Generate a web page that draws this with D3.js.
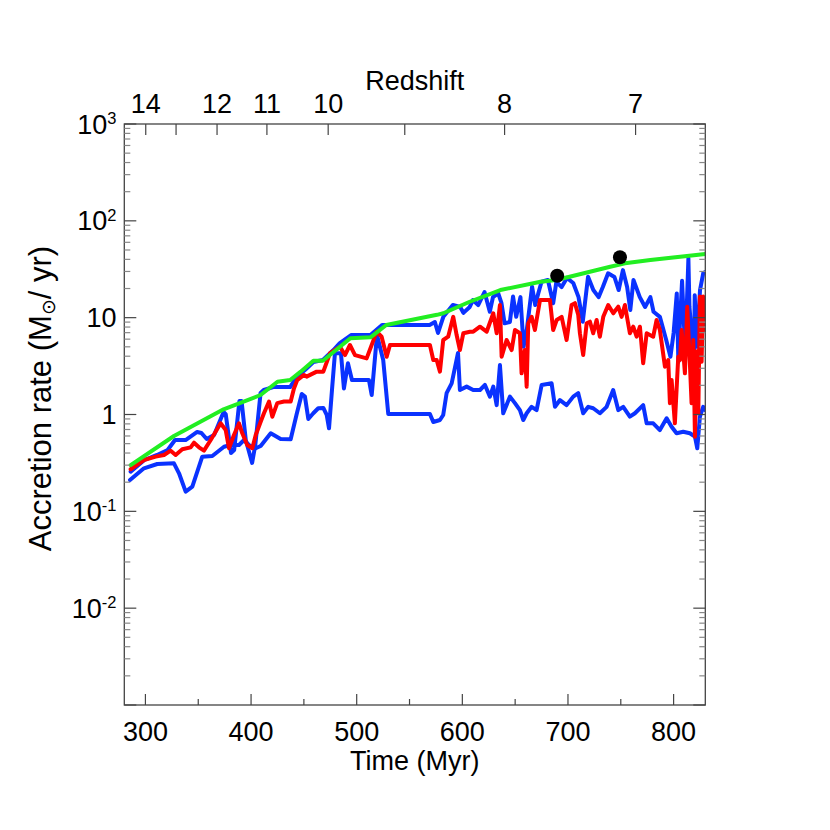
<!DOCTYPE html>
<html><head><meta charset="utf-8">
<script src="https://cdn.jsdelivr.net/npm/d3@7"></script>
<style>body{margin:0;background:#fff}</style>
</head><body>
<svg id="c" width="830" height="830"></svg>
<script>
// ---------- data ----------
const timeTicks = [300, 400, 500, 600, 700, 800];
const timeMinorTicks = [350, 450, 550, 650, 750];
const redshiftTimes = [300.3, 329, 367.8, 415, 473, 545.5, 640, 764];
const redshiftLabels = ["14", "", "12", "11", "10", "", "8", "7"];
const decadeExps = [-3, -2, -1, 0, 1, 2, 3];

const greenLine = [[286,0.30],[327,0.60],[374,1.13],[409,1.59],[425,2.18],[437,2.27],[447,2.77],[459,3.59],[468,3.59],[494,6.12],[513,6.27],[528,8.40],[576,10.7],[582,11.1],[607,14.6],[636,19.3],[674,23.5],[689,24.5],[740,33.6],[754,36.4],[778,39.4],[830,45.5]];

const blueUpper = [[286,0.257],[299,0.339],[311,0.382],[321,0.430],[328,0.545],[338,0.545],[349,0.660],[353,0.644],[358,0.558],[365,0.614],[374,1.06],[376,1.01],[381,0.400],[384,0.430],[389,1.38],[391,1.38],[395,0.545],[401,0.316],[404,0.484],[409,1.67],[412,1.79],[421,1.92],[437,1.92],[443,2.44],[451,2.88],[459,3.48],[468,3.65],[478,4.63],[484,5.47],[495,6.62],[513,6.62],[524,8.40],[569,8.40],[574,9.02],[577,6.95],[582,10.2],[591,13.5],[598,12.9],[601,11.2],[607,12.9],[610,15.2],[615,13.5],[621,18.4],[626,11.5],[629,16.3],[634,17.8],[637,14.2],[640,8.74],[645,9.02],[648,16.5],[651,10.2],[655,16.3],[658,5.01],[661,7.46],[666,20.9],[669,13.5],[672,18.0],[675,23.5],[681,24.5],[686,14.1],[689,23.4],[694,20.7],[699,25.7],[705,22.8],[710,16.3],[714,9.09],[719,26.5],[724,19.3],[729,16.3],[733,20.7],[738,28.7],[744,26.3],[748,19.3],[752,31.0],[756,20.7],[759,12.0],[762,24.5],[768,16.3],[773,12.9],[778,16.3],[781,11.5],[787,10.2],[793,5.88],[797,3.95],[800,6.95],[803,17.8],[804.5,3.5],[806,8.81],[808,24.0],[811,4.32],[814,41.0],[815,12.9],[817,6.95],[819,2.27],[820,17.0],[822,5.0],[825,19.3],[828,28.7],[830,29.6]];

const redLine = [[286,0.272],[298.6,0.339],[309.7,0.367],[317.6,0.382],[323.9,0.423],[328.6,0.382],[334.9,0.437],[342.8,0.458],[346,0.511],[350.7,0.458],[355.4,0.423],[361.8,0.545],[371.2,0.811],[376,0.691],[379.1,0.448],[383.8,0.614],[388.6,0.811],[391.7,0.640],[396.4,0.484],[401.2,0.448],[404.4,0.614],[409.1,0.843],[412.2,1.03],[417,1.36],[420.1,0.949],[424.8,1.31],[431.2,1.36],[437.5,1.36],[440.6,1.86],[443.7,2.27],[450.1,2.56],[452.6,2.46],[462.1,2.77],[468.4,2.77],[474.7,4.29],[484.2,5.01],[488.9,4.11],[493.6,5.22],[498.4,4.11],[509.4,3.80],[518.9,7.16],[523.6,6.36],[528.4,3.95],[531.5,5.22],[569.3,5.22],[572.5,3.65],[575.7,3.65],[578.8,2.77],[581.9,5.88],[586.6,6.36],[591.4,10.2],[594.6,6.62],[597.7,4.63],[600.9,6.90],[607.2,7.16],[610.3,7.16],[616.7,8.07],[623,7.16],[629.3,11.1],[632.5,6.90],[635.6,13.5],[637.2,3.95],[641.9,5.88],[646.7,4.63],[649.8,7.46],[654.5,6.90],[656.1,2.66],[659.2,4.63],[660.9,1.94],[662.4,8.74],[665.6,10.2],[668.7,7.46],[673.5,15.2],[682.9,15.2],[686,7.46],[689.3,9.46],[694,10.2],[698.7,5.88],[703.4,13.5],[706.6,14.1],[709.7,10.7],[711.3,6.90],[714.4,4.11],[717.7,8.74],[720.8,9.09],[723.9,6.90],[727.1,9.46],[730.2,6.36],[733.4,10.2],[738.1,13.5],[742.9,11.1],[747.6,13.0],[750.8,10.2],[753.9,13.5],[758.6,6.90],[761.8,8.07],[765,6.36],[768.1,8.07],[771.2,3.38],[774.5,6.90],[780.7,6.36],[783.9,9.46],[787,7.46],[791.8,3.12],[794.9,3.65],[796.5,1.31],[798.1,2.27],[801.2,0.811],[802.8,1.79],[804.4,3.95],[806,3.65],[807.6,7.46],[810.7,2.66],[812.9,13.0],[815.4,3.38],[817,1.31],[818.6,5.88],[820.2,0.590],[822,4.5],[823.4,1.03],[824.9,16.5],[826.5,3.5],[828,16.5],[829.6,10.2],[830,7.46]];

const blueLower = [[285.4,0.211],[298.6,0.278],[311.2,0.308],[327,0.313],[331.8,0.247],[338.1,0.160],[344.4,0.180],[353.8,0.367],[363.3,0.373],[374.4,0.465],[380.7,0.484],[388.6,0.484],[393.3,0.545],[398,0.484],[404.4,0.448],[409.1,0.473],[418.6,0.640],[428,0.558],[437.5,0.555],[443.2,1.01],[448,1.63],[451,1.53],[454.2,0.899],[458.9,1.03],[463.6,1.16],[468.4,1.17],[471.6,0.989],[473.8,0.720],[476.6,1.79],[479.4,4.29],[485.1,4.29],[487.9,1.86],[491.7,3.38],[495.5,2.27],[511.6,2.27],[514.2,1.59],[519.2,6.62],[525.1,3.65],[529.9,1.01],[569.3,1.01],[572.5,0.837],[578.8,0.877],[581.9,0.989],[585.1,1.66],[589.9,2.10],[595.9,4.32],[597.7,1.79],[604.1,1.94],[610.3,1.79],[616.7,1.79],[621.4,2.02],[626.1,1.53],[629.3,1.94],[632.5,1.25],[635.6,3.24],[638.7,1.03],[645.1,1.53],[649.8,1.31],[654.5,1.11],[657.7,0.877],[660.9,1.03],[665.6,1.20],[670.3,1.11],[675.1,2.02],[684.5,2.10],[687.7,1.20],[692.4,1.41],[698.7,1.25],[705,1.53],[709.7,1.66],[714.4,1.03],[719.2,1.20],[723.9,1.16],[730.2,1.03],[736.6,1.20],[742.8,1.79],[747.6,1.11],[752.3,1.20],[758.6,0.949],[763.4,1.03],[771.2,1.25],[774.5,0.811],[780.7,0.811],[787,0.691],[793.4,0.914],[798.1,0.748],[802.8,0.640],[809.1,0.664],[815.4,0.640],[820.2,0.590],[822.4,0.448],[824.9,0.949],[828,1.20],[830,1.11]];

const markerPoints = [[689.8,27.1],[749.2,42.0]];

// ---------- drawing ----------
const FONT = "'Liberation Sans', Arial, Helvetica, sans-serif";
const FS = 27;
const svg = d3.select("#c");
const L = 124.3, R = 705.3, T = 124, B = 705;
const x = d3.scaleLinear().domain([280, 830]).range([L, R]);
const y = d3.scaleLog().domain([1e-3, 1e3]).range([B, T]);
const axisCol = "#444", minorCol = "#888";

svg.append("clipPath").attr("id", "clip").append("rect")
  .attr("x", L).attr("y", T).attr("width", R - L).attr("height", B - T);

const plot = svg.append("g").attr("clip-path", "url(#clip)");
const line = d3.line().x(d => x(d[0])).y(d => y(d[1]));
function drawSeries(data, col) {
  plot.append("path").datum(data).attr("d", line)
    .attr("fill", "none").attr("stroke", col).attr("stroke-width", 4)
    .attr("stroke-linejoin", "round").attr("stroke-linecap", "round");
}
drawSeries(blueLower, "#0a32ff");
drawSeries(blueUpper, "#0a32ff");
drawSeries(redLine, "#ff0000");
drawSeries(greenLine, "#22ee22");

svg.append("g").selectAll("circle").data(markerPoints).join("circle")
  .attr("cx", d => x(d[0])).attr("cy", d => y(d[1])).attr("r", 7).attr("fill", "#000");

// frame
const ax = svg.append("g");
ax.append("rect").attr("x", L).attr("y", T).attr("width", R - L).attr("height", B - T)
  .attr("fill", "none").attr("stroke", axisCol).attr("stroke-width", 1.3);

// bottom axis ticks
ax.selectAll(".xt").data(timeTicks).join("line")
  .attr("x1", d => x(d)).attr("x2", d => x(d)).attr("y1", B).attr("y2", B - 11)
  .attr("stroke", axisCol).attr("stroke-width", 1.2);
ax.selectAll(".xm").data(timeMinorTicks).join("line")
  .attr("x1", d => x(d)).attr("x2", d => x(d)).attr("y1", B).attr("y2", B - 6)
  .attr("stroke", axisCol).attr("stroke-width", 1.2);
ax.selectAll(".xl").data(timeTicks).join("text")
  .attr("x", d => x(d)).attr("y", 741).attr("text-anchor", "middle")
  .attr("font-family", FONT).attr("font-size", FS).text(d => d);
ax.append("text").attr("x", (L + R) / 2).attr("y", 770).attr("text-anchor", "middle")
  .attr("font-family", FONT).attr("font-size", FS).text("Time (Myr)");

// top axis (redshift)
ax.selectAll(".zt").data(redshiftTimes).join("line")
  .attr("x1", d => x(d)).attr("x2", d => x(d)).attr("y1", T).attr("y2", T + 11)
  .attr("stroke", axisCol).attr("stroke-width", 1.2);
ax.selectAll(".zl").data(redshiftTimes).join("text")
  .attr("x", d => x(d)).attr("y", 113).attr("text-anchor", "middle")
  .attr("font-family", FONT).attr("font-size", FS).text((d, i) => redshiftLabels[i]);
ax.append("text").attr("x", (L + R) / 2).attr("y", 90).attr("text-anchor", "middle")
  .attr("font-family", FONT).attr("font-size", FS).text("Redshift");

// y axes ticks (left and right)
const minorVals = [];
decadeExps.slice(0, -1).forEach(k => { for (let m = 2; m <= 9; m++) minorVals.push(m * Math.pow(10, k)); });
const majorVals = decadeExps.map(k => Math.pow(10, k));
[[L, 1], [R, -1]].forEach(([x0, dir]) => {
  ax.append("g").selectAll("line").data(majorVals).join("line")
    .attr("x1", x0).attr("x2", x0 + dir * 12).attr("y1", d => y(d)).attr("y2", d => y(d))
    .attr("stroke", axisCol).attr("stroke-width", 1.2);
  ax.append("g").selectAll("line").data(minorVals).join("line")
    .attr("x1", x0).attr("x2", x0 + dir * 6).attr("y1", d => y(d)).attr("y2", d => y(d))
    .attr("stroke", minorCol).attr("stroke-width", 1.2);
});

// y labels
const yLab = ax.append("g").selectAll("text").data(decadeExps.filter(k => k > -3)).join("text")
  .attr("x", 116.5).attr("y", k => y(Math.pow(10, k)) + 9.5).attr("text-anchor", "end")
  .attr("font-family", FONT).attr("font-size", FS);
yLab.each(function(k) {
  const t = d3.select(this);
  if (k === 0) t.text("1");
  else if (k === 1) t.text("10");
  else {
    t.append("tspan").text("10");
    t.append("tspan").attr("font-size", 16.5).attr("dy", -9.5).text(String(k));
  }
});

// y title
const yt = ax.append("text").attr("transform", "translate(51,398.5) rotate(-90)")
  .attr("text-anchor", "middle").attr("font-family", FONT).attr("font-size", 31);
yt.append("tspan").text("Accretion rate (M");
yt.append("tspan").attr("font-size", 19).attr("dy", 4).text("\u2299");
yt.append("tspan").attr("dy", -4).text("/ yr)");
</script>
</body></html>
